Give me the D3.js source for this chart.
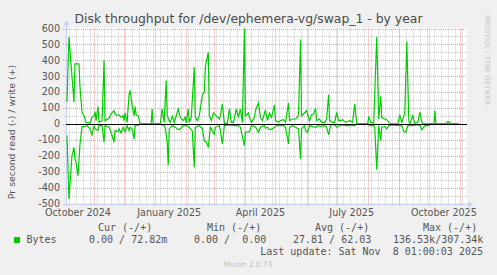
<!DOCTYPE html>
<html>
<head>
  <meta charset="utf-8" />
  <title>Disk throughput for /dev/ephemera-vg/swap_1 - by year</title>
  <script src="https://d3js.org/d3.v7.min.js"></script>
  <style>
    body { margin: 0; background: #f0f0f0; }
    svg text { font-family: "DejaVu Sans", sans-serif; fill: #555; }
    .mono { font-family: "DejaVu Sans Mono", monospace; font-size: 10px; white-space: pre; }
  </style>
</head>
<body>
  <div id="chart"></div>

  <script>
    // write (+) bytes per second, daily averages
    const writeSeries = [
      ["2024-10-05",136],["2024-10-07",546],["2024-10-12",136],["2024-10-13",378],["2024-10-17",378],
      ["2024-10-18",231],["2024-10-20",73],["2024-10-22",52],["2024-10-24",10],["2024-10-28",6],
      ["2024-10-30",42],["2024-11-01",52],["2024-11-02",78],["2024-11-03",21],["2024-11-05",109],
      ["2024-11-06",10],["2024-11-09",20],["2024-11-11",399],["2024-11-12",21],["2024-11-16",36],
      ["2024-11-18",63],["2024-11-21",84],["2024-11-22",63],["2024-11-24",52],["2024-11-26",57],
      ["2024-11-28",42],["2024-11-30",52],["2024-12-01",21],["2024-12-02",69],["2024-12-04",10],
      ["2024-12-06",189],["2024-12-07",210],["2024-12-09",115],["2024-12-11",52],["2024-12-12",109],
      ["2024-12-13",57],["2024-12-15",52],["2024-12-17",0],["2024-12-28",0],["2024-12-29",94],
      ["2024-12-30",0],["2025-01-06",0],["2025-01-08",94],["2025-01-10",10],["2025-01-12",273],
      ["2025-01-13",52],["2025-01-15",21],["2025-01-16",10],["2025-01-18",48],["2025-01-20",10],
      ["2025-01-21",31],["2025-01-24",94],["2025-01-26",42],["2025-01-29",21],["2025-01-31",42],
      ["2025-02-01",6],["2025-02-03",94],["2025-02-04",10],["2025-02-06",42],["2025-02-09",357],
      ["2025-02-10",42],["2025-02-12",21],["2025-02-14",52],["2025-02-15",94],["2025-02-17",178],
      ["2025-02-19",200],["2025-02-20",357],["2025-02-23",451],["2025-02-24",52],["2025-02-26",21],
      ["2025-02-28",69],["2025-03-02",57],["2025-03-03",48],["2025-03-06",31],["2025-03-07",52],
      ["2025-03-09",126],["2025-03-11",4],["2025-03-14",4],["2025-03-16",94],["2025-03-18",10],
      ["2025-03-20",10],["2025-03-23",94],["2025-03-25",42],["2025-03-27",94],["2025-03-29",10],
      ["2025-03-31",598],["2025-04-01",52],["2025-04-04",69],["2025-04-05",42],["2025-04-07",10],
      ["2025-04-10",42],["2025-04-11",84],["2025-04-14",132],["2025-04-16",42],["2025-04-18",21],
      ["2025-04-21",88],["2025-04-23",21],["2025-04-25",69],["2025-04-27",42],["2025-04-30",120],
      ["2025-05-01",21],["2025-05-04",10],["2025-05-06",21],["2025-05-09",27],["2025-05-11",10],
      ["2025-05-14",132],["2025-05-15",21],["2025-05-18",31],["2025-05-21",31],["2025-05-23",42],
      ["2025-05-24",63],["2025-05-26",531],["2025-05-27",52],["2025-05-30",69],["2025-06-01",84],
      ["2025-06-03",42],["2025-06-04",21],["2025-06-06",57],["2025-06-08",63],["2025-06-10",99],
      ["2025-06-11",21],["2025-06-14",31],["2025-06-16",10],["2025-06-19",10],["2025-06-21",31],
      ["2025-06-23",183],["2025-06-24",21],["2025-06-27",10],["2025-06-29",10],["2025-07-01",73],
      ["2025-07-03",21],["2025-07-05",21],["2025-07-07",27],["2025-07-10",10],["2025-07-12",15],
      ["2025-07-14",21],["2025-07-17",10],["2025-07-19",126],["2025-07-21",6],["2025-07-24",0],
      ["2025-08-01",0],["2025-08-02",48],["2025-08-04",10],["2025-08-07",6],["2025-08-10",546],
      ["2025-08-12",31],["2025-08-14",174],["2025-08-15",42],["2025-08-18",31],["2025-08-20",27],
      ["2025-08-22",10],["2025-08-24",0],["2025-08-31",0],["2025-09-02",57],["2025-09-04",10],
      ["2025-09-07",69],["2025-09-09",518],["2025-09-11",21],["2025-09-12",0],["2025-09-15",52],
      ["2025-09-17",0],["2025-09-20",10],["2025-09-22",73],["2025-09-24",10],["2025-09-26",0],
      ["2025-10-06",0],["2025-10-07",84],["2025-10-08",0],["2025-10-18",0],["2025-10-20",15],
      ["2025-10-22",10],["2025-10-23",0],["2025-10-31",0]
    ];

    // read (-) bytes per second, drawn below zero
    const readSeries = [
      ["2024-10-05",73],["2024-10-07",472],["2024-10-10",200],["2024-10-12",147],["2024-10-13",220],
      ["2024-10-14",241],["2024-10-16",325],["2024-10-18",126],["2024-10-20",17],["2024-10-23",15],
      ["2024-10-25",10],["2024-10-28",31],["2024-10-30",69],["2024-11-01",10],["2024-11-02",31],
      ["2024-11-05",42],["2024-11-06",10],["2024-11-09",10],["2024-11-11",115],["2024-11-12",10],
      ["2024-11-16",21],["2024-11-18",52],["2024-11-21",115],["2024-11-22",42],["2024-11-25",48],
      ["2024-11-26",31],["2024-11-28",57],["2024-11-30",21],["2024-12-02",48],["2024-12-04",10],
      ["2024-12-06",42],["2024-12-07",21],["2024-12-09",31],["2024-12-11",94],["2024-12-12",10],
      ["2024-12-16",6],["2024-12-17",0],["2025-01-06",0],["2025-01-08",6],["2025-01-10",10],
      ["2025-01-11",21],["2025-01-13",115],["2025-01-14",258],["2025-01-15",31],["2025-01-18",10],
      ["2025-01-21",21],["2025-01-24",36],["2025-01-26",31],["2025-01-29",10],["2025-02-01",10],
      ["2025-02-04",21],["2025-02-07",42],["2025-02-09",273],["2025-02-10",21],["2025-02-14",10],
      ["2025-02-17",31],["2025-02-19",105],["2025-02-21",115],["2025-02-23",147],["2025-02-25",21],
      ["2025-02-27",42],["2025-03-01",63],["2025-03-02",21],["2025-03-06",10],["2025-03-07",42],
      ["2025-03-09",126],["2025-03-11",10],["2025-03-16",6],["2025-03-21",10],["2025-03-25",10],
      ["2025-03-27",21],["2025-03-31",136],["2025-04-01",52],["2025-04-05",48],["2025-04-07",10],
      ["2025-04-11",17],["2025-04-14",52],["2025-04-16",21],["2025-04-20",10],["2025-04-21",27],
      ["2025-04-23",21],["2025-04-25",36],["2025-04-28",31],["2025-04-30",21],["2025-05-02",10],
      ["2025-05-09",10],["2025-05-11",21],["2025-05-14",126],["2025-05-15",21],["2025-05-18",10],
      ["2025-05-21",21],["2025-05-24",31],["2025-05-26",220],["2025-05-27",31],["2025-05-30",10],
      ["2025-05-31",42],["2025-06-02",52],["2025-06-04",10],["2025-06-07",17],["2025-06-10",21],
      ["2025-06-12",10],["2025-06-15",15],["2025-06-19",10],["2025-06-21",21],["2025-06-23",69],
      ["2025-06-25",6],["2025-06-29",4],["2025-07-01",21],["2025-07-04",10],["2025-07-07",6],
      ["2025-07-10",10],["2025-07-15",10],["2025-07-19",10],["2025-07-21",0],["2025-08-01",0],
      ["2025-08-03",10],["2025-08-07",10],["2025-08-08",21],["2025-08-10",288],["2025-08-12",10],
      ["2025-08-14",105],["2025-08-15",21],["2025-08-18",15],["2025-08-20",31],["2025-08-22",10],
      ["2025-08-26",6],["2025-09-02",10],["2025-09-04",10],["2025-09-06",48],["2025-09-08",52],
      ["2025-09-10",10],["2025-09-13",10],["2025-09-22",6],["2025-09-24",36],["2025-09-27",10],
      ["2025-10-01",10],["2025-10-03",0],["2025-10-31",0]
    ];

    const yTicks = [-500, -400, -300, -200, -100, 0, 100, 200, 300, 400, 500, 600];
    const xLabels = ["October 2024", "January 2025", "April 2025", "July 2025", "October 2025"];
    const xLabelDates = ["2024-10-16", "2025-01-15", "2025-04-16", "2025-07-16", "2025-10-16"];
    const legendHeaders = ["Cur (-/+)", "Min (-/+)", "Avg (-/+)", "Max (-/+)"];
    const legendValues = ["0.00 / 72.82m", "0.00 /  0.00", "27.81 / 62.03", "136.53k/307.34k"];
    const seriesName = "Bytes";
    const lastUpdate = "Last update: Sat Nov  8 01:00:03 2025";

    const width = 497, height = 275;
    const plotLeft = 66, plotRight = 467, plotTop = 28.5, plotBottom = 203.5;

    const parse = d3.timeParse("%Y-%m-%d");
    const endTime = new Date(2025, 10, 8, 1, 0, 3);
    const startTime = d3.timeDay.offset(endTime, -400);

    const x = d3.scaleTime().domain([startTime, endTime]).range([plotLeft, plotRight]);
    const y = d3.scaleLinear().domain([-500, 600]).range([plotBottom, plotTop]);
    const px = v => Math.round(v) + 0.5;

    const svg = d3.select("#chart").append("svg")
      .attr("width", width).attr("height", height)
      .attr("viewBox", [0, 0, width, height]);

    svg.append("rect").attr("width", width).attr("height", height).attr("fill", "#f0f0f0");
    svg.append("rect")
      .attr("x", plotLeft).attr("y", plotTop - 0.5)
      .attr("width", plotRight - plotLeft).attr("height", plotBottom - plotTop)
      .attr("fill", "#ffffff");

    const grid = svg.append("g").attr("stroke-width", 1).attr("stroke-dasharray", "1,1").attr("fill", "none");

    // minor grid: weeks and half hundreds
    d3.timeMonday.range(startTime, endTime).forEach(d => {
      grid.append("line")
        .attr("x1", px(x(d))).attr("x2", px(x(d)))
        .attr("y1", plotTop).attr("y2", plotBottom + 2)
        .attr("stroke", "#c8c8c8");
    });
    d3.range(-450, 600, 100).forEach(v => {
      grid.append("line")
        .attr("x1", plotLeft - 2).attr("x2", plotRight)
        .attr("y1", px(y(v))).attr("y2", px(y(v)))
        .attr("stroke", "#c8c8c8");
    });

    // major grid: months and hundreds
    d3.timeMonth.range(startTime, endTime).forEach(d => {
      grid.append("line")
        .attr("x1", px(x(d))).attr("x2", px(x(d)))
        .attr("y1", plotTop).attr("y2", plotBottom + 3)
        .attr("stroke", "#f09a9a");
    });
    yTicks.forEach(v => {
      grid.append("line")
        .attr("x1", plotLeft - 3).attr("x2", plotRight)
        .attr("y1", px(y(v))).attr("y2", px(y(v)))
        .attr("stroke", "#f09a9a");
    });

    // axes in rrdtool's pale blue with arrows
    const axisColor = "#c9cff5";
    svg.append("line")
      .attr("x1", plotLeft - 3).attr("x2", plotRight + 2)
      .attr("y1", px(y(-500))).attr("y2", px(y(-500)))
      .attr("stroke", axisColor);
    svg.append("line")
      .attr("x1", plotLeft + 0.5).attr("x2", plotLeft + 0.5)
      .attr("y1", plotBottom + 3).attr("y2", plotTop - 4)
      .attr("stroke", axisColor);
    svg.append("path")
      .attr("d", `M${plotRight + 6},${px(y(-500))} l-5,-3 v6 z`)
      .attr("fill", axisColor);
    svg.append("path")
      .attr("d", `M${plotLeft + 0.5},${plotTop - 8} l-3,5 h6 z`)
      .attr("fill", axisColor);

    // y tick labels
    svg.append("g").selectAll("text")
      .data(yTicks).join("text")
      .attr("x", plotLeft - 6)
      .attr("y", d => y(d) + 3.3)
      .attr("text-anchor", "end")
      .attr("font-size", "9.6px")
      .text(d => d);

    // x labels, centred on mid month like rrdtool
    svg.append("g").selectAll("text")
      .data(xLabels).join("text")
      .attr("x", (d, i) => x(parse(xLabelDates[i])))
      .attr("y", plotBottom + 12)
      .attr("text-anchor", "middle")
      .attr("font-size", "9.6px")
      .text(d => d);

    // series
    const writeLine = d3.line()
      .x(d => x(parse(d[0])))
      .y(d => y(d[1]));
    const readLine = d3.line()
      .x(d => x(parse(d[0])))
      .y(d => y(-d[1]));

    svg.append("path").datum(writeSeries)
      .attr("d", writeLine).attr("fill", "none")
      .attr("stroke", "#00cc00").attr("stroke-width", 1.2);
    svg.append("path").datum(readSeries)
      .attr("d", readLine).attr("fill", "none")
      .attr("stroke", "#00cc00").attr("stroke-width", 1.2);

    // zero line
    svg.append("line")
      .attr("x1", plotLeft).attr("x2", plotRight)
      .attr("y1", px(y(0))).attr("y2", px(y(0)))
      .attr("stroke", "#000").attr("stroke-width", 1);

    // title
    svg.append("text")
      .attr("x", 248.5).attr("y", 23)
      .attr("text-anchor", "middle")
      .attr("font-size", "12.4px")
      .style("fill", "#4a4a4a")
      .text("Disk throughput for /dev/ephemera-vg/swap_1 - by year");

    // vertical axis title
    svg.append("text")
      .attr("transform", "translate(14.5,132) rotate(-90)")
      .attr("text-anchor", "middle")
      .attr("font-size", "9.4px")
      .text("Pr second read (-) / write (+)");

    // rrdtool watermark
    svg.append("text")
      .attr("transform", "translate(485,15) rotate(90)")
      .attr("font-size", "7px")
      .style("fill", "#c4c4c4")
      .text("RRDTOOL / TOBI OETIKER");

    // legend
    const headerX = [98, 207, 315, 423];
    const valueX = [89, 194, 293, 393];
    svg.append("g").selectAll("text")
      .data(legendHeaders).join("text")
      .attr("class", "mono")
      .attr("x", (d, i) => headerX[i]).attr("y", 230.5)
      .text(d => d);

    svg.append("rect")
      .attr("x", 14).attr("y", 237).attr("width", 6).attr("height", 6)
      .attr("fill", "#00cc00");
    svg.append("text").attr("class", "mono")
      .attr("x", 26.5).attr("y", 242.5).text(seriesName);
    svg.append("g").selectAll("text")
      .data(legendValues).join("text")
      .attr("class", "mono")
      .attr("x", (d, i) => valueX[i]).attr("y", 242.5)
      .text(d => d);

    svg.append("text").attr("class", "mono")
      .attr("x", 483).attr("y", 254.5)
      .attr("text-anchor", "end")
      .text(lastUpdate);

    svg.append("text")
      .attr("x", 248).attr("y", 266.5)
      .attr("text-anchor", "middle")
      .attr("font-size", "7.4px")
      .style("fill", "#c0c0c0")
      .text("Munin 2.0.73");
  </script>
</body>
</html>
